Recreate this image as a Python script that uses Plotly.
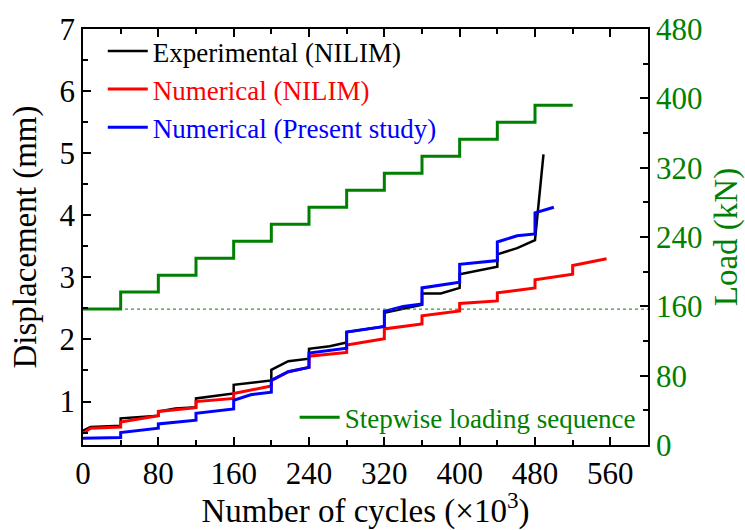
import plotly.graph_objects as go

# ---- data (cycles in x10^3, displacement in mm, load in kN) ----
exp_x = [0, 8, 40, 40, 80, 80, 98, 120, 120, 160, 160, 200, 200, 218, 240, 240, 262, 280, 280,
         320, 320, 360, 360, 380, 400, 400, 440, 440, 461, 480, 489]
exp_y = [0.53, 0.59, 0.61, 0.73, 0.77, 0.84, 0.89, 0.91, 1.05, 1.13, 1.27, 1.34, 1.51, 1.65, 1.69,
         1.85, 1.89, 1.95, 2.12, 2.21, 2.43, 2.56, 2.74, 2.74, 2.83, 3.05, 3.17, 3.37, 3.47, 3.60, 4.98]

num_x = [0, 8, 40, 40, 80, 80, 120, 120, 160, 160, 200, 200, 218, 240, 240, 280, 280, 320, 320,
         360, 360, 400, 400, 440, 440, 480, 480, 520, 520, 556]
num_y = [0.49, 0.57, 0.59, 0.67, 0.77, 0.84, 0.90, 1.00, 1.05, 1.13, 1.25, 1.34, 1.48, 1.55, 1.73,
         1.79, 1.91, 2.01, 2.17, 2.25, 2.38, 2.46, 2.58, 2.62, 2.75, 2.83, 2.96, 3.05, 3.19, 3.30]

ps_x = [0, 40, 40, 80, 80, 120, 120, 160, 160, 178, 200, 200, 218, 240, 240, 280, 280, 320, 320,
        340, 360, 360, 400, 400, 440, 440, 461, 480, 480, 500]
ps_y = [0.41, 0.42, 0.50, 0.57, 0.64, 0.70, 0.81, 0.88, 1.02, 1.11, 1.15, 1.34, 1.48, 1.55, 1.78,
        1.86, 2.12, 2.21, 2.45, 2.53, 2.57, 2.83, 2.92, 3.21, 3.27, 3.57, 3.67, 3.70, 4.04, 4.13]

load_x = [0, 40, 80, 120, 160, 200, 240, 280, 320, 360, 400, 440, 480, 520]
load_y = [156.8, 176.4, 196.0, 215.6, 235.2, 254.8, 274.4, 294.0, 313.6, 333.2, 352.8, 372.4, 392.0, 392.0]

ref_x = [0, 600]
ref_y = [156.8, 156.8]

x_ticks = [0, 80, 160, 240, 320, 400, 480, 560]
y_ticks = [1, 2, 3, 4, 5, 6, 7]
y2_ticks = [0, 80, 160, 240, 320, 400, 480]

FONT = "Liberation Serif, Times New Roman, Times, serif"
GREEN = "#008000"

fig = go.Figure()
fig.add_trace(go.Scatter(x=exp_x, y=exp_y, mode="lines", line=dict(color="black", width=2.5),
                         name='<span style="color:black">Experimental (NILIM)</span>', legend="legend"))
fig.add_trace(go.Scatter(x=num_x, y=num_y, mode="lines", line=dict(color="red", width=3),
                         name='<span style="color:red">Numerical (NILIM)</span>', legend="legend"))
fig.add_trace(go.Scatter(x=ps_x, y=ps_y, mode="lines", line=dict(color="blue", width=3),
                         name='<span style="color:blue">Numerical (Present study)</span>', legend="legend"))
fig.add_trace(go.Scatter(x=ref_x, y=ref_y, mode="lines", xaxis="x2", yaxis="y2", showlegend=False,
                         line=dict(color=GREEN, width=1, dash="dot")))
fig.add_trace(go.Scatter(x=load_x, y=load_y, mode="lines", yaxis="y2", line_shape="hv",
                         line=dict(color=GREEN, width=3),
                         name='<span style="color:#008000">Stepwise loading sequence</span>', legend="legend2"))

axis_common = dict(showline=True, linecolor="black", linewidth=1.5, ticks="inside", ticklen=8,
                   tickwidth=1.5, tickcolor="black", showgrid=False, zeroline=False)
minor_common = dict(ticks="inside", ticklen=5, tickwidth=1.5, tickcolor="black", showgrid=False)

fig.update_layout(
    width=745, height=530,
    margin=dict(l=83, r=97, t=20, b=78),
    plot_bgcolor="white", paper_bgcolor="white",
    font=dict(family=FONT, size=31, color="black"),
    xaxis=dict(range=[0, 600], tickvals=x_ticks, mirror=False, automargin=True,
               minor=dict(dtick=40, tick0=0, **minor_common),
               title=dict(text="Number of cycles (×10<sup>3</sup>)", font=dict(size=33, family=FONT), standoff=4),
               tickfont=dict(size=31, family=FONT), **axis_common),
    xaxis2=dict(range=[0, 600], tickvals=x_ticks, overlaying="x", side="top", anchor="y",
                showticklabels=False, automargin=False,
                minor=dict(dtick=40, tick0=0, **minor_common), **axis_common),
    yaxis=dict(range=[0.3, 7], tickvals=y_ticks, automargin=True,
               minor=dict(dtick=0.5, tick0=0, **minor_common),
               title=dict(text="Displacement (mm)", font=dict(size=33, family=FONT), standoff=13),
               tickfont=dict(size=31, family=FONT), **axis_common),
    yaxis2=dict(range=[0, 480], tickvals=y2_ticks, overlaying="y", side="right", automargin=False,
                minor=dict(dtick=40, tick0=0, **minor_common),
                title=dict(text="Load (kN)", font=dict(size=33, color=GREEN, family=FONT)),
                tickfont=dict(size=31, color=GREEN, family=FONT), **axis_common),
    legend=dict(x=0.035, y=1.005, xanchor="left", yanchor="top", bgcolor="rgba(0,0,0,0)",
                font=dict(size=27, family=FONT), tracegroupgap=0, itemwidth=40),
    legend2=dict(x=0.987, y=0.0065, xanchor="right", yanchor="bottom", bgcolor="rgba(0,0,0,0)",
                 font=dict(size=27, family=FONT), itemwidth=40),
)

fig.write_html("out.html")
